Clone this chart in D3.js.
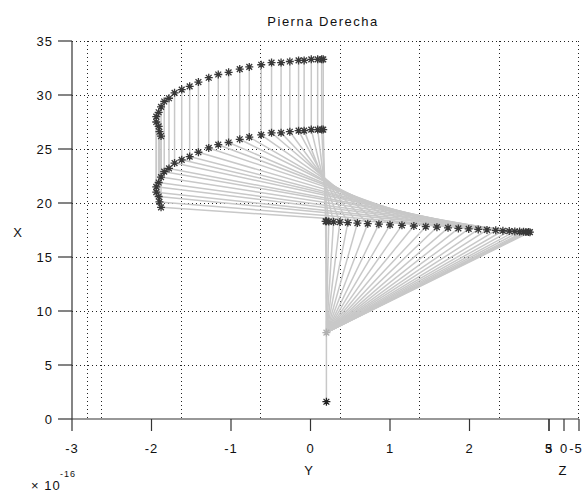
<!DOCTYPE html>
<html>
<head>
<meta charset="utf-8">
<script src="https://cdn.jsdelivr.net/npm/d3@7"></script>
<style>
	body { margin: 0; background: #fff; }
	text { font-family: "Liberation Sans", Arial, sans-serif; fill: #111; }
</style>
</head>
<body>
<svg id="chart" width="584" height="493"></svg>
<script>
// tick labels
var xTicks	= [0, 5, 10, 15, 20, 25, 30, 35];
var yTicks	= [-3, -2, -1, 0, 1, 2, 3];
var zTicks	= [5, 0, -5];

// upper curve (A), second curve (B), same Y per step  (Y in units of 1e-16)
var stepY	= [-1.88, -1.90, -1.91, -1.94, -1.94, -1.91, -1.88, -1.84, -1.78, -1.71, -1.62, -1.52, -1.41, -1.28,
		   -1.16, -1.03, -0.89, -0.77, -0.62, -0.49, -0.37, -0.26, -0.15, -0.08, 0.01, 0.09, 0.14, 0.16];
var aX		= [26.2, 26.6, 27.1, 27.5, 28.0, 28.4, 28.9, 29.4, 29.7, 30.2, 30.5, 30.8, 31.2, 31.6,
		   31.9, 32.1, 32.4, 32.6, 32.8, 33.0, 33.0, 33.1, 33.2, 33.2, 33.3, 33.3, 33.3, 33.3];
var bX		= [19.6, 20.1, 20.6, 21.0, 21.5, 21.9, 22.4, 22.9, 23.2, 23.7, 24.0, 24.3, 24.7, 25.1,
		   25.4, 25.6, 25.9, 26.1, 26.3, 26.5, 26.5, 26.6, 26.7, 26.7, 26.8, 26.8, 26.8, 26.8];
// lower joint (C)
var cY		= [2.76, 2.74, 2.71, 2.68, 2.63, 2.57, 2.50, 2.42, 2.33, 2.22, 2.11, 1.99, 1.86, 1.73,
		   1.59, 1.45, 1.30, 1.15, 1.00, 0.86, 0.72, 0.59, 0.47, 0.37, 0.29, 0.23, 0.20, 0.19];
var cX		= [17.30, 17.31, 17.32, 17.33, 17.35, 17.37, 17.40, 17.43, 17.47, 17.51, 17.55, 17.60, 17.65, 17.70,
		   17.76, 17.81, 17.87, 17.93, 17.98, 18.04, 18.09, 18.14, 18.19, 18.23, 18.26, 18.28, 18.30, 18.30];
// fixed joints
var kneePt	= [0.2, 8.0];
var basePt	= [0.2, 1.6];

var svg = d3.select("#chart");

var y	= d3.scaleLinear().domain([-3, 3]).range([72, 549]),
	x	= d3.scaleLinear().domain([0, 35]).range([419, 41]),
	z	= d3.scaleLinear().domain([5, -5]).range([549, 579]),
	depth	= z(-5) - z(5);

var pLeft = y(-3), pRight = z(-5), pTop = x(35), pBottom = x(0);

// grid (dotted)
var grid = svg.append("g").attr("stroke", "#222").attr("stroke-width", 1).attr("stroke-dasharray", "1,3");
grid.selectAll(".gx").data(xTicks.slice(1)).enter().append("line")
	.attr("x1", pLeft).attr("x2", pRight)
	.attr("y1", function(d) { return Math.round(x(d)) + 0.5; })
	.attr("y2", function(d) { return Math.round(x(d)) + 0.5; });
grid.selectAll(".gy").data(yTicks).enter().append("line")
	.attr("x1", function(d) { return Math.round(y(d) + depth) - 0.5; })
	.attr("x2", function(d) { return Math.round(y(d) + depth) - 0.5; })
	.attr("y1", pTop).attr("y2", pBottom);
grid.selectAll(".gz").data([0]).enter().append("line")
	.attr("x1", function(d) { return Math.round(pLeft + z(d) - z(5)) + 0.5; })
	.attr("x2", function(d) { return Math.round(pLeft + z(d) - z(5)) + 0.5; })
	.attr("y1", pTop).attr("y2", pBottom);

// links
var links = [];
stepY.forEach(function(v, i) {
	links.push([[v, aX[i]], [v, bX[i]]]);
	links.push([[v, bX[i]], [cY[i], cX[i]]]);
	links.push([[cY[i], cX[i]], kneePt]);
});
links.push([kneePt, basePt]);

svg.append("g").selectAll("line").data(links).enter().append("line")
	.attr("x1", function(d) { return y(d[0][0]); })
	.attr("y1", function(d) { return x(d[0][1]); })
	.attr("x2", function(d) { return y(d[1][0]); })
	.attr("y2", function(d) { return x(d[1][1]); })
	.attr("stroke", "#c8c8c8").attr("stroke-width", 1.5);

// asterisk markers
function star(r) {
	var a = r * 0.72;
	return "M" + (-r) + ",0L" + r + ",0M0," + (-r) + "L0," + r +
		"M" + (-a) + "," + (-a) + "L" + a + "," + a + "M" + (-a) + "," + a + "L" + a + "," + (-a);
}
var pts = [];
stepY.forEach(function(v, i) {
	pts.push({p: [v, aX[i]], c: "#383838"});
	pts.push({p: [v, bX[i]], c: "#383838"});
	pts.push({p: [cY[i], cX[i]], c: "#383838"});
});
pts.push({p: kneePt, c: "#b0b0b0"});
pts.push({p: basePt, c: "#222"});

svg.append("g").selectAll("path").data(pts).enter().append("path")
	.attr("d", star(4))
	.attr("transform", function(d) { return "translate(" + y(d.p[0]) + "," + x(d.p[1]) + ")"; })
	.attr("fill", "none").attr("stroke", function(d) { return d.c; }).attr("stroke-width", 1.3);

// axes
var ax = svg.append("g").attr("stroke", "#333").attr("stroke-width", 1.2);
ax.append("line").attr("x1", pLeft).attr("x2", pLeft).attr("y1", pTop).attr("y2", pBottom);
ax.append("line").attr("x1", pLeft).attr("x2", pRight).attr("y1", pBottom).attr("y2", pBottom);
ax.selectAll(".tx").data(xTicks).enter().append("line")
	.attr("x1", pLeft - 14).attr("x2", pLeft)
	.attr("y1", function(d) { return x(d); }).attr("y2", function(d) { return x(d); });
ax.selectAll(".ty").data(yTicks).enter().append("line")
	.attr("x1", function(d) { return y(d); }).attr("x2", function(d) { return y(d); })
	.attr("y1", pBottom).attr("y2", pBottom + 12);
ax.selectAll(".tz").data(zTicks).enter().append("line")
	.attr("x1", function(d) { return z(d); }).attr("x2", function(d) { return z(d); })
	.attr("y1", pBottom).attr("y2", pBottom + 12);

// labels
var lab = svg.append("g").style("font-size", "13px").style("letter-spacing", "1px");
lab.selectAll(".lx").data(xTicks).enter().append("text")
	.attr("x", pLeft - 19).attr("y", function(d) { return x(d) + 5; })
	.attr("text-anchor", "end").text(function(d) { return d; });
lab.selectAll(".ly").data(yTicks).enter().append("text")
	.attr("x", function(d) { return y(d); }).attr("y", pBottom + 34)
	.attr("text-anchor", "middle").text(function(d) { return d; });
lab.selectAll(".lz").data(zTicks).enter().append("text")
	.attr("x", function(d) { return z(d) - (d < 0 ? 3 : 0); }).attr("y", pBottom + 34)
	.attr("text-anchor", "middle").text(function(d) { return d; });

lab.append("text").attr("x", 323).attr("y", 26).attr("text-anchor", "middle")
	.style("letter-spacing", "1.5px").text("Pierna Derecha");
lab.append("text").attr("x", 18).attr("y", 237).attr("text-anchor", "middle").text("X");
lab.append("text").attr("x", 309).attr("y", 475).attr("text-anchor", "middle").text("Y");
lab.append("text").attr("x", 563).attr("y", 475).attr("text-anchor", "middle").text("Z");
lab.append("text").attr("x", 31).attr("y", 490).text("\u00d7 10");
lab.append("text").attr("x", 60).attr("y", 477).style("font-size", "9px").text("-16");
</script>
</body>
</html>
